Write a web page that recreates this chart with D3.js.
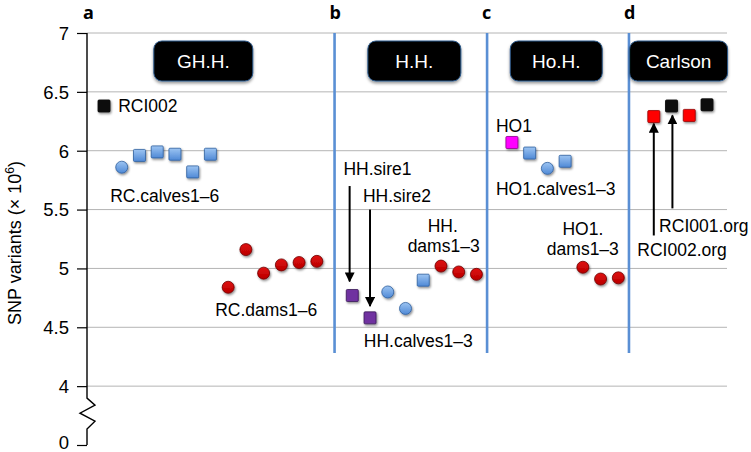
<!DOCTYPE html>
<html>
<head>
<meta charset="utf-8">
<script src="https://cdn.jsdelivr.net/npm/d3@7"></script>
<style>
  html, body { margin: 0; padding: 0; background: #fff; }
  svg { display: block; font-family: "Liberation Sans", Arial, Helvetica, sans-serif; }
</style>
</head>
<body>
<svg id="chart" width="751" height="452"></svg>
<script>
// ---------- DATA ----------
// Y tick values (3.5 slot is rendered as the broken-axis "0")
const yTickValues = [3.5, 4, 4.5, 5, 5.5, 6, 6.5, 7];
const yTickLabels = ["0", "4", "4.5", "5", "5.5", "6", "6.5", "7"];

// Panels (header label, panel letter, slot position of header centre)
const panelNames   = ["GH.H.", "H.H.", "Ho.H.", "Carlson"];
const panelLetters = ["a", "b", "c", "d"];
const panelCenters = [5.6, 17.5, 25.5, 32.4];
const separators   = [13, 21.6, 29.6];

// Samples: slot index along x, SNP variants (x 10^6), marker kind
const sampleNames = [
  "RCI002",
  "RC.calf1", "RC.calf2", "RC.calf3", "RC.calf4", "RC.calf5", "RC.calf6",
  "RC.dam1", "RC.dam2", "RC.dam3", "RC.dam4", "RC.dam5", "RC.dam6",
  "HH.sire1", "HH.sire2",
  "HH.calf1", "HH.calf2", "HH.calf3",
  "HH.dam1", "HH.dam2", "HH.dam3",
  "HO1", "HO1.calf1", "HO1.calf2", "HO1.calf3",
  "HO1.dam1", "HO1.dam2", "HO1.dam3",
  "RCI002.org", "RCI001.org", "RCI002.org b", "RCI001.org b"
];
const sampleSlots = [
  0,
  1, 2, 3, 4, 5, 6,
  7, 8, 9, 10, 11, 12,
  14, 15,
  16, 17, 18,
  19, 20, 21,
  23, 24, 25, 26,
  27, 28, 29,
  31, 32, 33, 34
];
const snpValues = [
  6.38,
  5.86, 5.96, 5.99, 5.97, 5.82, 5.97,
  4.84, 5.16, 4.96, 5.03, 5.05, 5.06,
  4.77, 4.58,
  4.80, 4.66, 4.90,
  5.02, 4.97, 4.95,
  6.07, 5.98, 5.85, 5.91,
  5.01, 4.91, 4.92,
  6.29, 6.38, 6.30, 6.39
];
const sampleKinds = [
  "blackSq",
  "blueCirc", "blueSq", "blueSq", "blueSq", "blueSq", "blueSq",
  "redCirc", "redCirc", "redCirc", "redCirc", "redCirc", "redCirc",
  "purpleSq", "purpleSq",
  "blueCirc", "blueCirc", "blueSq",
  "redCirc", "redCirc", "redCirc",
  "magentaSq", "blueSq", "blueCirc", "blueSq",
  "redCirc", "redCirc", "redCirc",
  "redSq", "blackSq", "redSq", "blackSq"
];

// Annotation texts: [text, slot, value, anchor]
const annotations = [
  ["RCI002", 0.8, 6.38, "start"],
  ["RC.calves1–6", 0.35, 5.62, "start"],
  ["RC.dams1–6", 6.27, 4.65, "start"],
  ["HH.sire1", 13.5, 5.845, "start"],
  ["HH.sire2", 14.6, 5.62, "start"],
  ["HH.", 19.1, 5.36, "middle"],
  ["dams1–3", 19.15, 5.195, "middle"],
  ["HH.calves1–3", 14.65, 4.39, "start"],
  ["HO1", 22.1, 6.21, "start"],
  ["HO1.calves1–3", 22.1, 5.675, "start"],
  ["HO1.", 27.0, 5.34, "middle"],
  ["dams1–3", 27.0, 5.17, "middle"],
  ["RCI001.org", 31.3, 5.36, "start"],
  ["RCI002.org", 30.07, 5.155, "start"]
];
// Arrows: [slot, fromValue, toValue]
const arrows = [
  [13.85, 5.70, 4.89],
  [15.0, 5.50, 4.68],
  [31.0, 5.28, 6.23],
  [32.05, 5.51, 6.30]
];

// ---------- SCALES ----------
const svg = d3.select("#chart");
const x = d3.scaleLinear().domain([0, 34]).range([104, 707]);
const y = d3.scaleLinear().domain([3.5, 7]).range([445, 33]);
const axisX = 87, gridRight = 727;

// ---------- DEFS ----------
const defs = svg.append("defs");
const sh = defs.append("filter").attr("id", "shadow")
  .attr("x", "-50%").attr("y", "-50%").attr("width", "200%").attr("height", "200%");
sh.append("feDropShadow").attr("dx", 1).attr("dy", 1.5)
  .attr("stdDeviation", 1).attr("flood-color", "#000").attr("flood-opacity", 0.45);
const bsh = defs.append("filter").attr("id", "boxshadow")
  .attr("x", "-20%").attr("y", "-30%").attr("width", "140%").attr("height", "160%");
bsh.append("feDropShadow").attr("dx", 0).attr("dy", 2)
  .attr("stdDeviation", 1.5).attr("flood-color", "#000").attr("flood-opacity", 0.4);

function grad(id, c1, c2) {
  const g = defs.append("linearGradient").attr("id", id)
    .attr("x1", 0).attr("y1", 0).attr("x2", 0).attr("y2", 1);
  g.append("stop").attr("offset", "0%").attr("stop-color", c1);
  g.append("stop").attr("offset", "100%").attr("stop-color", c2);
}
grad("gBlue", "#9cc4f2", "#4f89d6");
grad("gRed", "#e01010", "#b80000");

defs.append("marker").attr("id", "arrow")
  .attr("viewBox", "0 0 10 10").attr("refX", 9).attr("refY", 5)
  .attr("markerWidth", 5).attr("markerHeight", 5).attr("orient", "auto")
  .append("path").attr("d", "M0,0 L10,5 L0,10 Z").attr("fill", "#000");

// ---------- GRID ----------
svg.append("g").selectAll("line")
  .data(yTickValues.filter(v => v >= 4))
  .join("line")
  .attr("x1", axisX).attr("x2", gridRight)
  .attr("y1", d => y(d)).attr("y2", d => y(d))
  .attr("stroke", "#b4b4b4").attr("stroke-width", 1);

// ---------- AXIS ----------
const yAxis = d3.axisLeft(y).tickValues(yTickValues).tickSize(10).tickPadding(8)
  .tickFormat((d, i) => yTickLabels[i]);
const ag = svg.append("g").attr("transform", `translate(${axisX},0)`).call(yAxis);
ag.select(".domain").remove();
ag.selectAll(".tick line").attr("stroke", "#000").attr("stroke-width", 1.2);
ag.selectAll(".tick text").attr("font-size", 18.5).attr("fill", "#000")
  .attr("font-family", "Liberation Sans, Arial, sans-serif")
  .attr("dy", (d) => d === 3.5 ? "0.2em" : "0.34em");

const b0 = y(4) + 12, b1 = y(3.5) - 16;
svg.append("path")
  .attr("d", `M${axisX},${y(7)} V${b0} L${axisX + 8},${b0 + 7} L${axisX - 7},${b0 + 15} L${axisX + 8},${b0 + 23} L${axisX},${b1} V${y(3.5)}`)
  .attr("fill", "none").attr("stroke", "#000").attr("stroke-width", 1.4);

// axis title
const title = svg.append("text")
  .attr("transform", "translate(21,243) rotate(-90)")
  .attr("text-anchor", "middle").attr("font-size", 18).attr("fill", "#000");
title.append("tspan").text("SNP variants (× 10");
title.append("tspan").attr("font-size", 12).attr("dy", -7).text("6");
title.append("tspan").attr("dy", 7).text(")");

// ---------- SEPARATORS ----------
svg.append("g").selectAll("line").data(separators).join("line")
  .attr("x1", d => x(d)).attr("x2", d => x(d))
  .attr("y1", y(7)).attr("y2", 353)
  .attr("stroke", "#5a8fd4").attr("stroke-width", 2.6);

// ---------- PANEL LETTERS ----------
const letterX = [axisX + 1, x(separators[0]), x(separators[1]), x(separators[2])];
svg.append("g").selectAll("text").data(panelLetters).join("text")
  .attr("x", (d, i) => letterX[i] - 5).attr("y", 19)
  .attr("font-size", 18).attr("font-weight", "bold")
  .attr("font-family", "'Open Sans', 'Noto Sans', sans-serif")
  .text(d => d);

// ---------- HEADER BOXES ----------
const boxW = [99, 93, 92, 98];
const hb = svg.append("g").selectAll("g").data(panelNames).join("g")
  .attr("transform", (d, i) => `translate(${x(panelCenters[i])},61)`);
hb.append("rect")
  .attr("x", (d, i) => -boxW[i] / 2).attr("y", -20)
  .attr("width", (d, i) => boxW[i]).attr("height", 40)
  .attr("rx", 8).attr("fill", "#000").attr("stroke", "#2c5a8c").attr("stroke-width", 1)
  .attr("filter", "url(#boxshadow)");
hb.append("text").attr("text-anchor", "middle").attr("dy", "0.36em")
  .attr("font-size", 19).attr("fill", "#fff").text(d => d);

// ---------- ARROWS ----------
svg.append("g").selectAll("line").data(arrows).join("line")
  .attr("x1", d => x(d[0])).attr("x2", d => x(d[0]))
  .attr("y1", d => y(d[1])).attr("y2", d => y(d[2]))
  .attr("stroke", "#000").attr("stroke-width", 2)
  .attr("marker-end", "url(#arrow)");

// ---------- MARKERS ----------
const kindStyle = {
  blueSq:   { shape: "sq",   fill: "url(#gBlue)", stroke: "#2f5f9e", size: 12 },
  blueCirc: { shape: "circ", fill: "url(#gBlue)", stroke: "#2f5f9e", size: 12 },
  redCirc:  { shape: "circ", fill: "url(#gRed)",  stroke: "#6e0000", size: 12 },
  purpleSq: { shape: "sq",   fill: "#7030a0", stroke: "#3a1a58", size: 12 },
  magentaSq:{ shape: "sq",   fill: "#ff00ff", stroke: "#8a008a", size: 12 },
  redSq:    { shape: "sq",   fill: "#ff0000", stroke: "#900000", size: 12 },
  blackSq:  { shape: "sq",   fill: "#111111", stroke: "#000", size: 12 }
};
const pts = sampleNames.map((n, i) => ({ name: n, slot: sampleSlots[i], v: snpValues[i], kind: sampleKinds[i] }));
const mg = svg.append("g");
mg.selectAll("rect").data(pts.filter(p => kindStyle[p.kind].shape === "sq")).join("rect")
  .attr("x", p => x(p.slot) - kindStyle[p.kind].size / 2)
  .attr("y", p => y(p.v) - kindStyle[p.kind].size / 2)
  .attr("width", p => kindStyle[p.kind].size).attr("height", p => kindStyle[p.kind].size)
  .attr("rx", 1)
  .attr("fill", p => kindStyle[p.kind].fill).attr("stroke", p => kindStyle[p.kind].stroke)
  .attr("stroke-width", 0.8).attr("filter", "url(#shadow)");
mg.selectAll("circle").data(pts.filter(p => kindStyle[p.kind].shape === "circ")).join("circle")
  .attr("cx", p => x(p.slot)).attr("cy", p => y(p.v))
  .attr("r", p => kindStyle[p.kind].size / 2)
  .attr("fill", p => kindStyle[p.kind].fill).attr("stroke", p => kindStyle[p.kind].stroke)
  .attr("stroke-width", 0.8).attr("filter", "url(#shadow)");

// ---------- ANNOTATIONS ----------
svg.append("g").selectAll("text").data(annotations).join("text")
  .attr("x", d => x(d[1])).attr("y", d => y(d[2]))
  .attr("dy", "0.36em").attr("text-anchor", d => d[3])
  .attr("font-size", 17.5).attr("fill", "#000").text(d => d[0]);
</script>
</body>
</html>
